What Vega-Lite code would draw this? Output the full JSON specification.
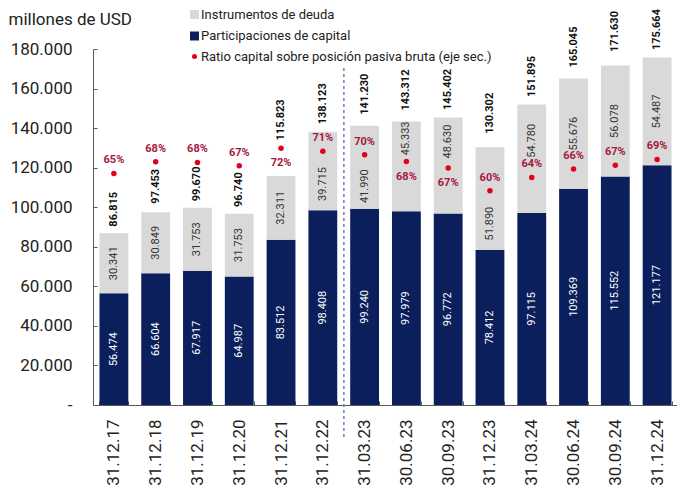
{
  "$schema": "https://vega.github.io/schema/vega-lite/v6.json",
  "width": 585,
  "height": 356,
  "autosize": {"type": "none"},
  "padding": {"left": 93, "top": 49, "right": 0, "bottom": 80},
  "background": "white",
  "config": {
    "locale": {"number": {"decimal": ",", "thousands": ".", "grouping": [3], "currency": ["", ""], "percent": "%"}},
    "font": "Roboto",
    "view": {"stroke": null},
    "axis": {"grid": false},
    "axisY": {"titleAngle": 0, "titleAlign": "left", "titleBaseline": "middle", "titleX": -85, "titleY": -30, "titleFontSize": 17, "titleFontWeight": "normal", "titleColor": "#222", "labelFontSize": 17, "labelColor": "#222", "labelPadding": 25, "tickSize": -4, "tickColor": "#595959", "domainColor": "#595959", "labelOverlap": false}
  },
  "datasets": {
    "barras": [
      {"fecha": "31.12.17", "serie": "Participaciones de capital", "valor": 56474},
      {"fecha": "31.12.17", "serie": "Instrumentos de deuda", "valor": 30341},
      {"fecha": "31.12.18", "serie": "Participaciones de capital", "valor": 66604},
      {"fecha": "31.12.18", "serie": "Instrumentos de deuda", "valor": 30849},
      {"fecha": "31.12.19", "serie": "Participaciones de capital", "valor": 67917},
      {"fecha": "31.12.19", "serie": "Instrumentos de deuda", "valor": 31753},
      {"fecha": "31.12.20", "serie": "Participaciones de capital", "valor": 64987},
      {"fecha": "31.12.20", "serie": "Instrumentos de deuda", "valor": 31753},
      {"fecha": "31.12.21", "serie": "Participaciones de capital", "valor": 83512},
      {"fecha": "31.12.21", "serie": "Instrumentos de deuda", "valor": 32311},
      {"fecha": "31.12.22", "serie": "Participaciones de capital", "valor": 98408},
      {"fecha": "31.12.22", "serie": "Instrumentos de deuda", "valor": 39715},
      {"fecha": "31.03.23", "serie": "Participaciones de capital", "valor": 99240},
      {"fecha": "31.03.23", "serie": "Instrumentos de deuda", "valor": 41990},
      {"fecha": "30.06.23", "serie": "Participaciones de capital", "valor": 97979},
      {"fecha": "30.06.23", "serie": "Instrumentos de deuda", "valor": 45333},
      {"fecha": "30.09.23", "serie": "Participaciones de capital", "valor": 96772},
      {"fecha": "30.09.23", "serie": "Instrumentos de deuda", "valor": 48630},
      {"fecha": "31.12.23", "serie": "Participaciones de capital", "valor": 78412},
      {"fecha": "31.12.23", "serie": "Instrumentos de deuda", "valor": 51890},
      {"fecha": "31.03.24", "serie": "Participaciones de capital", "valor": 97115},
      {"fecha": "31.03.24", "serie": "Instrumentos de deuda", "valor": 54780},
      {"fecha": "30.06.24", "serie": "Participaciones de capital", "valor": 109369},
      {"fecha": "30.06.24", "serie": "Instrumentos de deuda", "valor": 55676},
      {"fecha": "30.09.24", "serie": "Participaciones de capital", "valor": 115552},
      {"fecha": "30.09.24", "serie": "Instrumentos de deuda", "valor": 56078},
      {"fecha": "31.12.24", "serie": "Participaciones de capital", "valor": 121177},
      {"fecha": "31.12.24", "serie": "Instrumentos de deuda", "valor": 54487}
    ],
    "totales": [
      {"fecha": "31.12.17", "total": 86815, "ratio": 0.6505},
      {"fecha": "31.12.18", "total": 97453, "ratio": 0.68345},
      {"fecha": "31.12.19", "total": 99670, "ratio": 0.68142},
      {"fecha": "31.12.20", "total": 96740, "ratio": 0.67177},
      {"fecha": "31.12.21", "total": 115823, "ratio": 0.72103},
      {"fecha": "31.12.22", "total": 138123, "ratio": 0.71247},
      {"fecha": "31.03.23", "total": 141230, "ratio": 0.70268},
      {"fecha": "30.06.23", "total": 143312, "ratio": 0.68368},
      {"fecha": "30.09.23", "total": 145402, "ratio": 0.66555},
      {"fecha": "31.12.23", "total": 130302, "ratio": 0.60177},
      {"fecha": "31.03.24", "total": 151895, "ratio": 0.63935},
      {"fecha": "30.06.24", "total": 165045, "ratio": 0.66266},
      {"fecha": "30.09.24", "total": 171630, "ratio": 0.67326},
      {"fecha": "31.12.24", "total": 175664, "ratio": 0.68982}
    ]
  },
  "layer": [
    {
      "layer": [
        {
          "data": {"name": "barras"},
          "mark": {"type": "bar"},
          "encoding": {
            "x": {
              "field": "fecha", "type": "nominal",
              "scale": {"domain": ["31.12.17","31.12.18","31.12.19","31.12.20","31.12.21","31.12.22","31.03.23","30.06.23","30.09.23","31.12.23","31.03.24","30.06.24","30.09.24","31.12.24"], "paddingInner": 0.31, "paddingOuter": 0.155},
              "axis": {"title": null, "labelAngle": -90, "labelAlign": "right", "labelBaseline": "middle", "labelFontSize": 17, "labelColor": "#222", "labelPadding": 18, "tickBand": "extent", "tickSize": -4, "tickColor": "#595959", "domainColor": "#595959", "labelOverlap": false,
                "encode": {"labels": {"update": {"dx": {"signal": "indexof(['31.12.17','31.12.18','31.12.19','31.12.20','31.12.21','31.12.22'], datum.value) >= 0 ? 0 : -4"}}}}}
            },
            "y": {
              "field": "valor", "type": "quantitative", "stack": "zero",
              "scale": {"domain": [0, 180000], "nice": false},
              "axis": {"title": "millones de USD", "values": [0,20000,40000,60000,80000,100000,120000,140000,160000,180000], "format": ",d", "labelExpr": "datum.value === 0 ? '-\u00a0\u00a0' : datum.label"}
            },
            "color": {
              "field": "serie", "type": "nominal",
              "scale": {"domain": ["Instrumentos de deuda", "Participaciones de capital"], "range": ["#D9D9D9", "#0B1F5C"]},
              "legend": {"orient": "none", "legendX": 95, "legendY": -41, "title": null, "direction": "vertical", "labelFontSize": 13, "labelColor": "#222", "labelLimit": 0, "rowPadding": 7.5, "symbolSize": 81, "symbolType": "square", "symbolStrokeWidth": 0, "labelOffset": 0}
            },
            "order": {"field": "serie", "sort": "descending"}
          }
        },
        {
          "data": {"name": "barras"},
          "mark": {"type": "text", "angle": 270, "align": "center", "baseline": "middle", "fontSize": 11,
            "dx": {"expr": "datum.serie === 'Participaciones de capital' ? 0 : datum.fecha === '31.12.22' ? -13 : datum.fecha === '31.03.23' ? -19 : datum.fecha === '31.12.23' ? -25 : datum.fecha === '30.06.23' ? 28 : datum.fecha === '30.09.23' ? 24 : datum.fecha === '31.03.24' ? 18 : 0"}},
          "encoding": {
            "x": {"field": "fecha", "type": "nominal"},
            "y": {"field": "valor", "type": "quantitative", "stack": "zero", "bandPosition": 0.5,
              "axis": {"title": "millones de USD", "values": [0,20000,40000,60000,80000,100000,120000,140000,160000,180000], "format": ",d", "labelExpr": "datum.value === 0 ? '-\u00a0\u00a0' : datum.label"}},
            "detail": {"field": "serie"},
            "order": {"field": "serie", "sort": "descending"},
            "text": {"field": "valor", "type": "quantitative", "format": ",d"},
            "color": {"condition": {"test": "datum.serie === 'Participaciones de capital'", "value": "#FFFFFF"}, "value": "#333333"}
          }
        },
        {
          "data": {"name": "totales"},
          "mark": {"type": "text", "angle": 270, "align": "center", "baseline": "middle", "fontSize": 11, "fontWeight": "bold", "color": "#111",
            "dx": {"expr": "datum.fecha === '31.12.21' ? 56 : datum.fecha === '31.12.18' ? 26 : datum.fecha === '31.12.22' || datum.fecha === '31.03.24' || datum.fecha === '30.09.23' || datum.fecha === '31.12.24' ? 28 : datum.fecha === '31.03.23' || datum.fecha === '30.06.23' || datum.fecha === '30.06.24' ? 31.5 : datum.fecha === '31.12.23' || datum.fecha === '30.09.24' ? 34 : 24"}},
          "encoding": {
            "x": {"field": "fecha", "type": "nominal"},
            "y": {"field": "total", "type": "quantitative",
              "axis": {"title": "millones de USD", "values": [0,20000,40000,60000,80000,100000,120000,140000,160000,180000], "format": ",d", "labelExpr": "datum.value === 0 ? '-\u00a0\u00a0' : datum.label"}},
            "text": {"field": "total", "type": "quantitative", "format": ",d"}
          }
        },
        {
          "data": {"name": "totales"},
          "transform": [{"filter": "datum.fecha === '31.12.22'"}],
          "mark": {"type": "rule", "strokeDash": [3, 3], "color": "#6E7FB1", "strokeWidth": 1.5},
          "encoding": {
            "x": {"field": "fecha", "type": "nominal", "bandPosition": 1.23},
            "y": {"datum": 170400, "type": "quantitative",
              "axis": {"title": "millones de USD", "values": [0,20000,40000,60000,80000,100000,120000,140000,160000,180000], "format": ",d", "labelExpr": "datum.value === 0 ? '-\u00a0\u00a0' : datum.label"}},
            "y2": {"datum": -16180}
          }
        }
      ]
    },
    {
      "data": {"name": "totales"},
      "layer": [
        {
          "mark": {"type": "point", "filled": true, "size": 30, "color": "#E2001A", "opacity": 1},
          "encoding": {
            "x": {"field": "fecha", "type": "nominal"},
            "y": {"field": "ratio", "type": "quantitative", "scale": {"domain": [0, 1], "nice": false}, "axis": null},
            "shape": {"datum": "Ratio capital sobre posición pasiva bruta (eje sec.)", "type": "nominal", "scale": {"range": ["circle"]},
              "legend": {"orient": "none", "legendX": 95, "legendY": 1, "title": null, "labelFontSize": 13, "labelColor": "#222", "labelLimit": 0, "symbolSize": 25, "symbolFillColor": "#E2001A", "symbolStrokeWidth": 0, "labelOffset": 0}}
          }
        },
        {
          "mark": {"type": "text", "align": "center", "baseline": "middle", "fontSize": 11, "fontWeight": "bold", "color": "#A6173D",
            "dy": {"expr": "indexof(['31.12.21','30.06.23','30.09.23'], datum.fecha) >= 0 ? 15 : -13"}},
          "encoding": {
            "x": {"field": "fecha", "type": "nominal"},
            "y": {"field": "ratio", "type": "quantitative"},
            "text": {"field": "ratio", "type": "quantitative", "format": ".0%"}
          }
        }
      ]
    }
  ],
  "resolve": {"scale": {"y": "independent"}}
}
